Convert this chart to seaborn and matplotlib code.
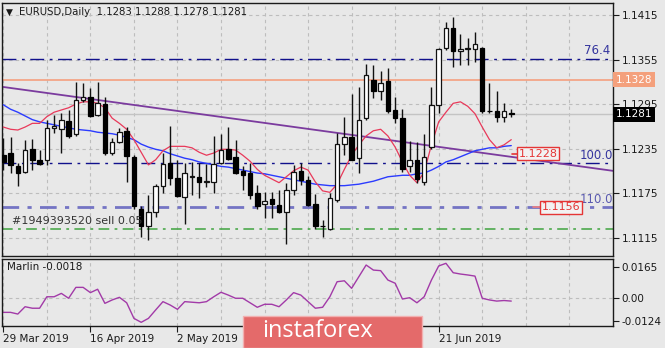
import numpy as np
import pandas as pd
import matplotlib
matplotlib.use("Agg")
import matplotlib.pyplot as plt
import matplotlib.transforms as mtransforms
from matplotlib.patches import Rectangle
import seaborn as sns

sns.set_theme(style="white")
plt.rcParams['font.family'] = ['DejaVu Sans']

# ---------------- data ----------------
dates = pd.bdate_range('2019-03-29', '2019-07-05')

open_ = [1.1226, 1.1229, 1.1211, 1.1204, 1.1234, 1.1220, 1.1219, 1.1263, 1.1261, 1.1272,
         1.1255, 1.1300, 1.1304, 1.1280, 1.1295, 1.1229, 1.1244, 1.1259, 1.1224, 1.1154,
         1.1131, 1.1149, 1.1185, 1.1215, 1.1196, 1.1170, 1.1197, 1.1197, 1.1190, 1.1190,
         1.1215, 1.1235, 1.1223, 1.1205, 1.1202, 1.1175, 1.1160, 1.1167, 1.1159, 1.1150,
         1.1179, 1.1205, 1.1193, 1.1160, 1.1131, 1.1127, 1.1166, 1.1241, 1.1250, 1.1222,
         1.1276, 1.1327, 1.1313, 1.1326, 1.1287, 1.1276, 1.1211, 1.1220, 1.1190, 1.1237,
         1.1294, 1.1370, 1.1397, 1.1366, 1.1369, 1.1369, 1.1371, 1.1286, 1.1286, 1.1278,
         1.1283]
high = [1.1249, 1.1251, 1.1216, 1.1247, 1.1248, 1.1233, 1.1274, 1.1280, 1.1283, 1.1287,
        1.1325, 1.1324, 1.1317, 1.1325, 1.1304, 1.1249, 1.1263, 1.1264, 1.1226, 1.1157,
        1.1172, 1.1187, 1.1229, 1.1265, 1.1220, 1.1215, 1.1217, 1.1215, 1.1214, 1.1252,
        1.1255, 1.1264, 1.1247, 1.1211, 1.1215, 1.1186, 1.1177, 1.1177, 1.1179, 1.1188,
        1.1213, 1.1216, 1.1198, 1.1174, 1.1139, 1.1175, 1.1256, 1.1277, 1.1309, 1.1318,
        1.1349, 1.1348, 1.1339, 1.1343, 1.1304, 1.1289, 1.1245, 1.1244, 1.1254, 1.1318,
        1.1370, 1.1405, 1.1413, 1.1390, 1.1384, 1.1392, 1.1372, 1.1323, 1.1313, 1.1296,
        1.1288]
low = [1.1206, 1.1202, 1.1185, 1.1202, 1.1206, 1.1213, 1.1213, 1.1256, 1.1229, 1.1249,
       1.1252, 1.1298, 1.1278, 1.1279, 1.1226, 1.1226, 1.1242, 1.1190, 1.1154, 1.1116,
       1.1112, 1.1143, 1.1175, 1.1186, 1.1170, 1.1134, 1.1172, 1.1168, 1.1183, 1.1175,
       1.1214, 1.1220, 1.1201, 1.1179, 1.1167, 1.1154, 1.1141, 1.1141, 1.1148, 1.1106,
       1.1172, 1.1186, 1.1158, 1.1127, 1.1116, 1.1125, 1.1163, 1.1226, 1.1219, 1.1202,
       1.1274, 1.1303, 1.1300, 1.1283, 1.1269, 1.1204, 1.1204, 1.1188, 1.1186, 1.1235,
       1.1283, 1.1368, 1.1345, 1.1348, 1.1348, 1.1352, 1.1283, 1.1283, 1.1271, 1.1271,
       1.1278]
close = [1.1217, 1.1213, 1.1202, 1.1233, 1.1220, 1.1214, 1.1263, 1.1265, 1.1274, 1.1252,
         1.1300, 1.1304, 1.1279, 1.1297, 1.1229, 1.1244, 1.1258, 1.1225, 1.1157, 1.1130,
         1.1150, 1.1185, 1.1214, 1.1195, 1.1171, 1.1202, 1.1198, 1.1190, 1.1191, 1.1214,
         1.1233, 1.1221, 1.1202, 1.1200, 1.1173, 1.1157, 1.1165, 1.1160, 1.1149, 1.1179,
         1.1204, 1.1193, 1.1159, 1.1130, 1.1130, 1.1168, 1.1241, 1.1251, 1.1220, 1.1274,
         1.1334, 1.1312, 1.1324, 1.1286, 1.1276, 1.1208, 1.1219, 1.1194, 1.1224, 1.1294,
         1.1369, 1.1398, 1.1366, 1.1369, 1.1370, 1.1376, 1.1286, 1.1285, 1.1277, 1.1285,
         1.1281]
ma_fast = [1.1264, 1.1261, 1.1260, 1.1264, 1.1269, 1.1269, 1.1278, 1.1284, 1.1287, 1.1290,
           1.1295, 1.1298, 1.1298, 1.1296, 1.1290, 1.1276, 1.1269, 1.1261, 1.1247, 1.1230,
           1.1213, 1.1220, 1.1232, 1.1238, 1.1238, 1.1238, 1.1236, 1.1230, 1.1226, 1.1229,
           1.1234, 1.1234, 1.1233, 1.1226, 1.1218, 1.1207, 1.1199, 1.1194, 1.1189, 1.1197,
           1.1205, 1.1210, 1.1206, 1.1190, 1.1178, 1.1176, 1.1187, 1.1207, 1.1226, 1.1240,
           1.1252, 1.1259, 1.1261, 1.1252, 1.1237, 1.1217, 1.1199, 1.1189, 1.1203, 1.1240,
           1.1271, 1.1284, 1.1296, 1.1298, 1.1292, 1.1282, 1.1264, 1.1247, 1.1236, 1.1240,
           1.1247]
ma_slow = [1.1294, 1.1288, 1.1284, 1.1279, 1.1274, 1.1271, 1.1269, 1.1267, 1.1265, 1.1263,
           1.1261, 1.1260, 1.1259, 1.1257, 1.1256, 1.1255, 1.1253, 1.1250, 1.1247, 1.1241,
           1.1237, 1.1234, 1.1232, 1.1228, 1.1225, 1.1222, 1.1220, 1.1217, 1.1215, 1.1213,
           1.1211, 1.1210, 1.1208, 1.1206, 1.1204, 1.1202, 1.1201, 1.1199, 1.1197, 1.1195,
           1.1193, 1.1191, 1.1189, 1.1187, 1.1186, 1.1185, 1.1185, 1.1185, 1.1186, 1.1187,
           1.1189, 1.1191, 1.1194, 1.1197, 1.1198, 1.1199, 1.1199, 1.1201, 1.1202, 1.1206,
           1.1211, 1.1217, 1.1220, 1.1224, 1.1228, 1.1232, 1.1234, 1.1236, 1.1236, 1.1238,
           1.1239]
marlin = [-0.0078, -0.0078, -0.0087, -0.0048, -0.0056, -0.0056, 0.0005, 0.0005, 0.0023, -0.0003,
          0.0055, 0.0055, 0.0027, 0.0045, -0.0030, -0.0012, 0.0002, -0.0027, -0.0110, -0.0131,
          -0.0110, -0.0065, -0.0021, -0.0039, -0.0062, -0.0021, -0.0024, -0.0027, -0.0021, 0.0005,
          0.0029, 0.0014, -0.0003, -0.0003, -0.0027, -0.0051, -0.0035, -0.0035, -0.0048, -0.0012,
          0.0027, 0.0014, -0.0021, -0.0056, -0.0051, 0.0005, 0.0085, 0.0090, 0.0050, 0.0112,
          0.0174, 0.0147, 0.0144, 0.0094, 0.0077, -0.0007, 0.0000, -0.0027, 0.0005, 0.0094,
          0.0169, 0.0183, 0.0133, 0.0126, 0.0121, 0.0115, -0.0003, -0.0012, -0.0018, -0.0015,
          -0.0018]

trend_idx = [0, 84]
trend_val = [1.1318, 1.1205]

fib_levels = [1.1356, 1.1215, 1.1156]
fib_names = ["76.4", "100.0", "110.0"]
resist_level = 1.1328
order_level = 1.1127
order_text = "#1949393520 sell 0.05"
last_price = 1.1281
box_level_a = 1.1228
box_level_b = 1.1156

price_ticks = [1.1115, 1.1175, 1.1235, 1.1295, 1.1355, 1.1415]
marlin_ticks = [-0.0124, 0.0, 0.0165]
marlin_tick_labels = ["-0.0124", "0.00", "0.0165"]
date_labels = ["29 Mar 2019", "16 Apr 2019", "2 May 2019", "21 Jun 2019"]
title_text = "EURUSD,Daily  1.1283 1.1288 1.1278 1.1281"

# ---------------- figure ----------------
BG = '#E8E8E8'
W, H = 665, 348
fig = plt.figure(figsize=(W / 100, H / 100), dpi=100, facecolor=BG)
ax = fig.add_axes([2 / W, 92 / H, 611 / W, 253 / H], facecolor=BG)
ax2 = fig.add_axes([2 / W, 22 / H, 611 / W, 67 / H], facecolor=BG)

idx = np.arange(len(close))
df = pd.DataFrame({'i': idx, 'o': open_, 'h': high, 'l': low, 'c': close,
                   'fast': ma_fast, 'slow': ma_slow, 'marlin': marlin})

XL = (-0.18, 84.02)
grid_kw = dict(color='#BDBDBD', lw=0.8, ls=(0, (3, 3)), zorder=0)

# grid
for gx in range(0, 85, 6):
    ax.axvline(gx, **grid_kw)
    ax2.axvline(gx, **grid_kw)
for gy in price_ticks:
    ax.axhline(gy, **grid_kw)
ax2.axhline(0.0, **grid_kw)

# level lines
dd = (0, (10, 4, 2, 4))
ax.axhline(last_price, color='#C4C4C4', lw=1.0, zorder=1)
ax.axhline(resist_level, color='#F4A587', lw=1.3, zorder=1)
ax.axhline(fib_levels[0], color='#10108C', lw=1.0, ls=dd, zorder=1)
ax.axhline(fib_levels[1], color='#10108C', lw=1.0, ls=dd, zorder=1)
ax.axhline(fib_levels[2], color='#7474C4', lw=2.0, ls=(0, (6, 3, 1.5, 3)), zorder=1)
ax.axhline(order_level, color='#3FA33F', lw=1.1, ls=(0, (7, 3.5, 1.8, 3.5)), zorder=1)

# trendline
ax.plot(trend_idx, trend_val, color='#7B3B9E', lw=1.3, zorder=2)

# moving averages via seaborn
sns.lineplot(data=df, x='i', y='slow', ax=ax, color='#2B3BFF', lw=1.0, zorder=3)
sns.lineplot(data=df, x='i', y='fast', ax=ax, color='#E8395A', lw=0.9, zorder=3)

# candles
o = np.array(open_); c = np.array(close); hi = np.array(high); lo = np.array(low)
up = c >= o
ax.vlines(idx, lo, hi, color='#111111', lw=1.0, zorder=4)
bottoms = np.minimum(o, c)
heights = np.maximum(np.abs(c - o), 0.00002)
ax.bar(idx[up], heights[up], bottom=bottoms[up], width=0.62, color='white',
       edgecolor='#111111', lw=0.9, zorder=5)
ax.bar(idx[~up], heights[~up], bottom=bottoms[~up], width=0.62, color='#000000',
       edgecolor='#000000', lw=0.9, zorder=5)

# fib labels
ax.text(83.7, fib_levels[0] + 0.0002, fib_names[0], ha='right', va='bottom',
        color='#34349E', fontsize=8.5, zorder=6)
ax.text(84.0, fib_levels[1] + 0.0002, fib_names[1], ha='right', va='bottom',
        color='#34349E', fontsize=8.5, zorder=6)
ax.text(84.0, fib_levels[2] + 0.0002, fib_names[2], ha='right', va='bottom',
        color='#5A5AB0', fontsize=8.5, zorder=6)

# order label
ax.text(1.2, order_level + 0.0004, order_text, ha='left', va='bottom',
        color='#333333', fontsize=8, zorder=6)

# red price boxes
ax.plot([70.1, 71.3], [box_level_a, box_level_a], color='#E53535', lw=1.2, zorder=6)
ax.text(73.7, box_level_a, f"{box_level_a:.4f}", ha='center', va='center', color='#E53535',
        fontsize=8, zorder=7,
        bbox=dict(boxstyle='square,pad=0.15', fc='#F2F2F2', ec='#E53535', lw=1.0))
ax.plot([73.0, 74.6], [box_level_b, box_level_b], color='#F08080', lw=1.2, zorder=6)
ax.text(76.85, box_level_b, f"{box_level_b:.4f}", ha='center', va='center', color='#E53535',
        fontsize=8, zorder=7,
        bbox=dict(boxstyle='square,pad=0.15', fc='#F2F2F2', ec='#E53535', lw=1.0))

# axes styling
for a in (ax, ax2):
    a.set_xlim(*XL)
    for s in a.spines.values():
        s.set_color('#1A1A1A')
        s.set_linewidth(1.0)
    a.set_xlabel('')
    a.set_ylabel('')

ax.set_ylim(1.10902, 1.14312)
ax.yaxis.tick_right()
ax.set_yticks(price_ticks)
ax.set_yticklabels([f"{t:.4f}" for t in price_ticks])
ax.tick_params(axis='y', which='both', right=True, length=4, width=0.8, pad=2,
               labelsize=7.5, colors='#1A1A1A', direction='out')
ax.set_xticks([])

# right axis price boxes
tr = mtransforms.blended_transform_factory(ax.transAxes, ax.transData)
ax.text(1.004, resist_level, f"{resist_level:.4f}", transform=tr, ha='left', va='center',
        color='white', fontsize=7.5, clip_on=False,
        bbox=dict(boxstyle='square,pad=0.25', fc='#F4A07C', ec='none'))
ax.text(1.004, last_price, f"{last_price:.4f}", transform=tr, ha='left', va='center',
        color='white', fontsize=7.5, clip_on=False,
        bbox=dict(boxstyle='square,pad=0.25', fc='#000000', ec='none'))

# sub panel
sns.lineplot(data=df, x='i', y='marlin', ax=ax2, color='#A23AA8', lw=1.0)
ax2.set_ylim(-0.01506, 0.0206)
ax2.yaxis.tick_right()
ax2.set_yticks(marlin_ticks)
ax2.set_yticklabels(marlin_tick_labels)
ax2.tick_params(axis='y', right=True, length=4, width=0.8, pad=2, labelsize=7.5,
                colors='#1A1A1A')
label_pos = [int(dates.get_loc(pd.Timestamp(d))) for d in date_labels]
ax2.set_xticks(label_pos)
ax2.set_xticklabels(date_labels, ha='left')
ax2.tick_params(axis='x', bottom=True, length=4, width=0.8, pad=2, labelsize=7.5,
                colors='#1A1A1A')
ax2.set_xlabel('')
ax2.set_ylabel('')
ax2.text(0.008, 0.88, f"Marlin {marlin[-1]:.4f}", transform=ax2.transAxes, ha='left',
         va='center', fontsize=7.5, color='#1A1A1A')

# title
fig.text(6 / W, 1 - 12 / H, "\u25BC", fontsize=6.5, va='center', ha='left', color='#1A1A1A')
fig.text(19 / W, 1 - 12 / H, title_text, fontsize=7.3, va='center', ha='left', color='#1A1A1A')

# watermark
fig.patches.append(Rectangle((243 / W, 0), 179 / W, 32 / H, transform=fig.transFigure,
                             fc='#E46A6A', ec='#F2B0B0', lw=1.0, zorder=10))
fig.text(318 / W, 17 / H, "instaforex", fontsize=17, color='white', ha='center',
         va='center', zorder=11, family=['Open Sans', 'DejaVu Sans'])

fig.savefig('out.png', dpi=100, facecolor=BG)
